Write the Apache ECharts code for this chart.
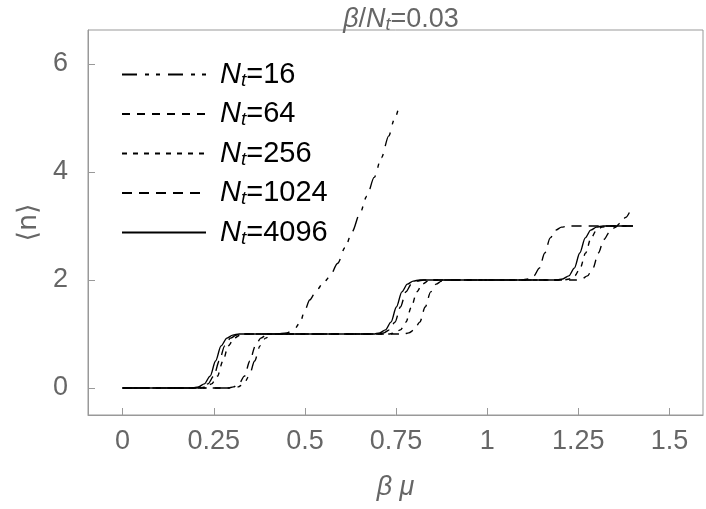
<!DOCTYPE html>
<html>
<head>
<meta charset="utf-8">
<script src="https://cdn.jsdelivr.net/npm/echarts@6/dist/echarts.min.js"></script>
<style>html,body{margin:0;padding:0;background:#fff;}#c{width:706px;height:509px;}</style>
</head>
<body>
<div id="c"></div>
<script>
// ---- data ----
const seriesNames = ['16', '64', '256', '1024', '4096'];
const xTicks = [0, 0.25, 0.5, 0.75, 1, 1.25, 1.5];
const xTickLabels = ['0', '0.25', '0.5', '0.75', '1', '1.25', '1.5'];
const yTicks = [0, 2, 4, 6];
const yTickLabels = ['0', '2', '4', '6'];

const nt16 = [[0,0],[0.25,0],[0.302,0],[0.317,0.02],[0.332,0.076],[0.347,0.22],[0.362,0.5],[0.377,0.78],[0.392,0.924],[0.407,0.98],[0.422,1.0],
  [0.45,1.02],[0.47,1.08],[0.486,1.2],[0.5,1.44],[0.513,1.63],[0.532,1.81],[0.55,1.94],[0.568,2.06],[0.59,2.31],[0.61,2.6],[0.63,2.9],
  [0.65,3.22],[0.67,3.55],[0.69,3.9],[0.71,4.27],[0.73,4.67],[0.745,4.97],[0.76,5.27]];
const nt64 = [[0,0],[0.25,0],[0.289,0],[0.304,0.02],[0.319,0.076],[0.334,0.22],[0.349,0.5],[0.364,0.78],[0.379,0.924],[0.394,0.98],[0.409,1],
  [0.6,1],[0.77,1],[0.785,1.02],[0.8,1.076],[0.815,1.22],[0.83,1.5],[0.845,1.78],[0.86,1.924],[0.875,1.98],[0.89,2],
  [1.1,2],[1.245,2],[1.26,2.02],[1.275,2.076],[1.29,2.22],[1.305,2.5],[1.32,2.75],[1.335,2.88],[1.35,2.97],[1.365,3.05],[1.38,3.16],[1.395,3.32]];
const nt256 = [[0,0],[0.15,0],[0.212,0],[0.228,0.02],[0.244,0.076],[0.26,0.22],[0.275,0.5],[0.29,0.78],[0.306,0.924],[0.322,0.98],[0.338,1],
  [0.55,1],[0.73,1],[0.746,1.02],[0.762,1.076],[0.777,1.22],[0.792,1.5],[0.807,1.78],[0.822,1.924],[0.838,1.98],[0.855,2],
  [1.05,2],[1.21,2],[1.225,2.02],[1.24,2.076],[1.255,2.22],[1.27,2.5],[1.285,2.78],[1.3,2.924],[1.315,2.98],[1.33,3],[1.4,3]];
const nt1024 = [[0,0],[0.15,0],[0.2,0],[0.218,0.02],[0.234,0.076],[0.25,0.22],[0.265,0.5],[0.28,0.78],[0.296,0.924],[0.312,0.98],[0.33,1],
  [0.55,1],[0.7,1],[0.716,1.02],[0.732,1.076],[0.747,1.22],[0.762,1.5],[0.777,1.78],[0.792,1.924],[0.808,1.98],[0.825,2],
  [0.95,2],[1.095,2],[1.112,2.02],[1.128,2.076],[1.143,2.22],[1.158,2.5],[1.173,2.78],[1.188,2.924],[1.204,2.98],[1.222,3],[1.4,3]];
const nt4096 = [[0,0],[0.15,0],[0.19,0],[0.208,0.02],[0.224,0.076],[0.24,0.22],[0.255,0.5],[0.27,0.78],[0.286,0.924],[0.302,0.98],[0.32,1],
  [0.55,1],[0.688,1],[0.705,1.02],[0.721,1.076],[0.736,1.22],[0.751,1.5],[0.766,1.78],[0.781,1.924],[0.797,1.98],[0.815,2],
  [1.0,2],[1.19,2],[1.207,2.02],[1.224,2.076],[1.239,2.22],[1.254,2.5],[1.269,2.78],[1.284,2.924],[1.3,2.98],[1.318,3],[1.4,3]];

// ---- chart ----
const FONT = '"Liberation Sans", Arial, sans-serif';
const GRAY = '#666';
const FS = 27;
const dashes = {
  '16': [15, 8, 4, 7, 4, 8],
  '64': [8, 7],
  '256': [5, 6],
  '1024': [10, 7],
  '4096': 'solid'
};
const dataMap = { '16': nt16, '64': nt64, '256': nt256, '1024': nt1024, '4096': nt4096 };

function richSet(color, fs) {
  return {
    i: { fontSize: fs, fontStyle: 'italic', fontFamily: FONT, color: color },
    n: { fontSize: fs, fontFamily: FONT, color: color },
    s: { fontSize: Math.round(fs * 0.67), fontStyle: 'italic', fontFamily: FONT, color: color, padding: [Math.round(fs * 0.42), 0, 0, 0] }
  };
}

const chart = echarts.init(document.getElementById('c'), null, { renderer: 'canvas' });
chart.setOption({
  animation: false,
  backgroundColor: '#fff',
  title: {
    text: '{i|β}{n|/}{i|N}{s|t}{n|=0.03}',
    left: 396, textAlign: 'center', top: 0,
    textStyle: { fontSize: FS, fontFamily: FONT, color: GRAY, fontWeight: 'normal', rich: richSet(GRAY, FS) }
  },
  legend: {
    show: true,
    orient: 'vertical', left: 116, top: 55,
    itemWidth: 84, itemHeight: 14, itemGap: 9.5,
    itemStyle: { opacity: 0 },
    data: seriesNames.map(n => 'N' + n),
    formatter: name => '{i|N}{s|t}{n|=' + name.slice(1) + '}',
    textStyle: { fontSize: 29, fontFamily: FONT, color: '#000', padding: [0, 0, 0, 9], rich: richSet('#000', 29) }
  },
  grid: { left: 88, right: 3, top: 30, bottom: 94, show: true, borderColor: '#999', borderWidth: 1, containLabel: false },
  xAxis: {
    type: 'value', min: -0.095, max: 1.592,
    name: 'β μ', nameLocation: 'middle', nameGap: 59,
    nameTextStyle: { fontSize: FS, fontStyle: 'italic', fontFamily: FONT, color: GRAY },
    axisLine: { show: true, onZero: false, lineStyle: { color: '#999' } },
    axisTick: { show: true, inside: true, length: 7, customValues: xTicks, lineStyle: { color: '#999' } },
    axisLabel: {
      customValues: xTicks, margin: 13, fontSize: FS, fontFamily: FONT, color: GRAY,
      formatter: v => { const i = xTicks.findIndex(t => Math.abs(t - v) < 1e-9); return i >= 0 ? xTickLabels[i] : ''; }
    },
    splitLine: { show: false }
  },
  yAxis: {
    type: 'value', min: -0.5, max: 6.63,
    name: '⟨n⟩', nameLocation: 'middle', nameGap: 44, nameRotate: 90,
    nameTextStyle: { fontSize: FS, fontFamily: '"DejaVu Sans", ' + FONT, color: GRAY },
    axisLine: { show: true, onZero: false, lineStyle: { color: '#999' } },
    axisTick: { show: true, inside: true, length: 7, customValues: yTicks, lineStyle: { color: '#999' } },
    axisLabel: {
      customValues: yTicks, margin: 20, fontSize: FS, fontFamily: FONT, color: GRAY,
      formatter: v => { const i = yTicks.findIndex(t => Math.abs(t - v) < 1e-9); return i >= 0 ? yTickLabels[i] : ''; }
    },
    splitLine: { show: false }
  },
  series: seriesNames.map(n => ({
    name: 'N' + n,
    type: 'line',
    data: dataMap[n],
    showSymbol: false, symbol: 'none',
    smooth: 0.3, smoothMonotone: 'x',
    lineStyle: { color: '#000', width: 1.4, type: dashes[n] },
    itemStyle: { color: '#000' },
    z: n === '4096' ? 3 : 2
  }))
});
</script>
</body>
</html>
